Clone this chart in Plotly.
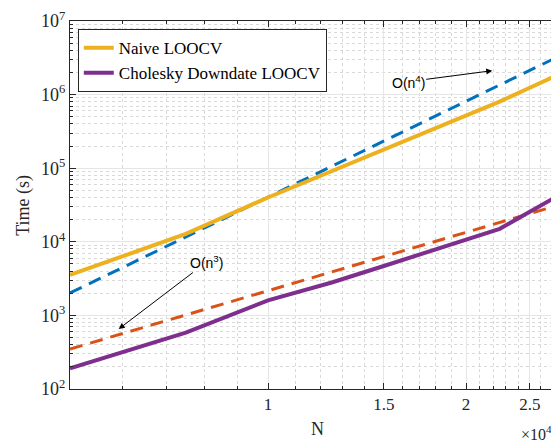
import math
import plotly.graph_objects as go

# ---- data ----
N = [5000, 7500, 10000, 12500, 15000, 17500, 20000, 22500, 25000, 27500]
naive = [3550, 12800, 40000, 92000, 180000, 318000, 520000, 802000, 1240000, 1830000]
cholesky = [191, 583, 1600, 2800, 4690, 7230, 10500, 15000, 25600, 41400]
o_n4 = [2014, 11640, 40420, 106200, 233800, 455000, 811000, 1349000, 2130000, 3220000]
o_n3 = [349, 1014, 2163, 3893, 6295, 9440, 13430, 18290, 24150, 31050]

x_major = [10000, 15000, 20000, 25000]
x_major_text = ["1", "1.5", "2", "2.5"]
x_minor = [5000, 6000, 7000, 8000, 9000, 11000, 12000, 13000, 14000, 16000, 17000,
           18000, 19000, 21000, 22000, 23000, 24000, 26000, 27000]
y_major = [1e2, 1e3, 1e4, 1e5, 1e6, 1e7]
y_major_text = ["10<sup>2</sup>", "10<sup>3</sup>", "10<sup>4</sup>",
                "10<sup>5</sup>", "10<sup>6</sup>", "10<sup>7</sup>"]
y_minor = [m * 10 ** e for e in range(2, 7) for m in range(2, 10)]

BLUE = "#0072BD"
ORANGE = "#D95319"
YELLOW = "#EDB120"
PURPLE = "#7E2F8E"
SERIF = "Liberation Serif"
SANS = "Liberation Sans"

fig = go.Figure()
fig.add_trace(go.Scatter(x=N, y=o_n4, mode="lines", showlegend=False,
                         line=dict(color=BLUE, width=3, dash="13px,8px")))
fig.add_trace(go.Scatter(x=N, y=o_n3, mode="lines", showlegend=False,
                         line=dict(color=ORANGE, width=3, dash="13px,8px")))
fig.add_trace(go.Scatter(x=N, y=naive, mode="lines", name="Naive LOOCV",
                         line=dict(color=YELLOW, width=4)))
fig.add_trace(go.Scatter(x=N, y=cholesky, mode="lines", name="Cholesky Downdate LOOCV",
                         line=dict(color=PURPLE, width=4)))

axis_common = dict(
    type="log", showline=True, linecolor="#262626", linewidth=1, mirror="allticks",
    ticks="inside", ticklen=6, tickcolor="#262626", tickwidth=1,
    showgrid=True, gridcolor="#e6e6e6", gridwidth=1, zeroline=False,
    ticklabeloverflow="allow",
)

fig.update_xaxes(
    **axis_common,
    range=[math.log10(5000), math.log10(27500)],
    tickmode="array", tickvals=x_major, ticktext=x_major_text,
    tickfont=dict(family=SERIF, size=17, color="#262626"),
    minor=dict(tickmode="array", tickvals=x_minor, ticks="inside", ticklen=3,
               tickcolor="#262626", showgrid=True, gridcolor="#d9d9d9", griddash="dot"),
)
fig.update_yaxes(
    **axis_common,
    range=[2, 7],
    tickmode="array", tickvals=y_major, ticktext=y_major_text,
    tickfont=dict(family=SERIF, size=18, color="#262626"),
    minor=dict(tickmode="array", tickvals=y_minor, ticks="inside", ticklen=3,
               tickcolor="#262626", showgrid=True, gridcolor="#d9d9d9", griddash="dot"),
)

# the page body has an 8px default margin; the figure is sized to fit the window
fig.update_layout(
    width=551, height=434,
    margin=dict(l=62, r=1, t=9, b=53),
    paper_bgcolor="white", plot_bgcolor="white",
    showlegend=True,
    legend=dict(x=0.016, y=0.978, xanchor="left", yanchor="top",
                bgcolor="white", bordercolor="#262626", borderwidth=1,
                font=dict(family=SERIF, size=17, color="#000000"),
                tracegroupgap=0, itemwidth=30),
    annotations=[
        dict(text="Time (s)", xref="paper", yref="paper", x=-0.097, y=0.5,
             xanchor="center", yanchor="middle", textangle=-90, showarrow=False,
             font=dict(family=SERIF, size=18, color="#262626")),
        dict(text="N", xref="paper", yref="paper", x=0.508, y=-0.11,
             xanchor="center", yanchor="middle", showarrow=False,
             font=dict(family=SERIF, size=18, color="#262626")),
        dict(text="\u00d710<sup>4</sup>", xref="paper", yref="paper", x=0.993, y=-0.12,
             xanchor="right", yanchor="middle", showarrow=False,
             font=dict(family=SERIF, size=16, color="#262626")),
        dict(text="O(n<sup>4</sup>)", xref="paper", yref="paper", x=0.867, y=0.865,
             ax=-84, ay=11, showarrow=True, arrowhead=2, arrowsize=1.2, arrowwidth=1,
             arrowcolor="black", font=dict(family=SANS, size=14, color="black")),
        dict(text="O(n<sup>3</sup>)", xref="paper", yref="paper", x=0.100, y=0.163,
             ax=88, ay=-67, showarrow=True, arrowhead=2, arrowsize=1.2, arrowwidth=1,
             arrowcolor="black", font=dict(family=SANS, size=14, color="black")),
    ],
)

fig.write_html("out.html")
